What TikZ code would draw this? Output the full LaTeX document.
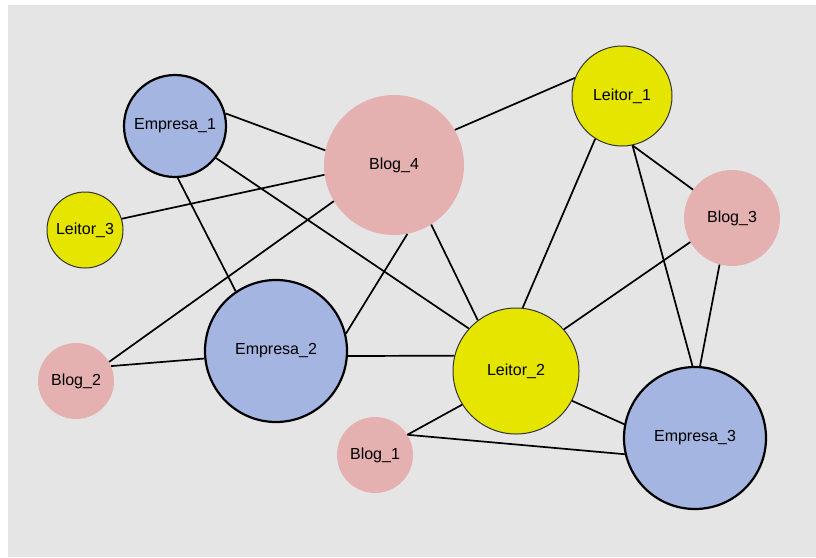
\documentclass[tikz,border=0pt]{standalone}
\usepackage{fontspec}
\setmainfont{Liberation Sans}
\definecolor{bgc}{RGB}{229,229,229}
\definecolor{empc}{RGB}{163,181,224}
\definecolor{blogc}{RGB}{229,177,176}
\definecolor{leic}{RGB}{229,229,0}
\begin{document}
\begin{tikzpicture}[x=1pt,y=-1pt,
  every node/.style={font=\fontsize{16}{18}\selectfont, text=black},
  emp/.style={circle, fill=empc, draw=black, line width=2.2pt, inner sep=0pt},
  blog/.style={circle, fill=blogc, inner sep=0pt},
  lei/.style={circle, fill=leic, draw=black!80, line width=1pt, inner sep=0pt},
  edge/.style={draw=black, line width=1.7pt}]
\useasboundingbox (0,0) rectangle (816,557);
\fill[white] (0,0) rectangle (816,557);
\fill[bgc] (8,5) rectangle (816,557);
\node[emp, minimum size=102pt] (E1) at (175,126) {Empresa\_1};
\node[blog, minimum size=140pt] (B4) at (394,165) {Blog\_4};
\node[lei, minimum size=76pt] (L3) at (85,230) {Leitor\_3};
\node[lei, minimum size=100pt] (L1) at (622,96) {Leitor\_1};
\node[blog, minimum size=96pt] (B3) at (732,218) {Blog\_3};
\node[emp, minimum size=142pt] (E2) at (276,351) {Empresa\_2};
\node[blog, minimum size=76pt] (B2) at (76,381) {Blog\_2};
\node[blog, minimum size=76pt] (B1) at (375,455) {Blog\_1};
\node[lei, minimum size=126pt] (L2) at (516,371) {Leitor\_2};
\node[emp, minimum size=142pt] (E3) at (695,438) {Empresa\_3};
\path[edge] (E1.14) -- (B4.168);
\path[edge] (E1.-38) -- (L2.138);
\path[edge] (E1.-87) -- (E2.124);
\path[edge] (L3.17) -- (B4.-172);
\path[edge] (B4.211) -- (B2.30);
\path[edge] (B4.-79) -- (E2.14);
\path[edge] (B4.-58) -- (L2.127);
\path[edge] (B4.30) -- (L1.159);
\path[edge] (L1.-122) -- (L2.84);
\path[edge] (L1.-78) -- (E3.92);
\path[edge] (L1.-78) -- (B3.144);
\path[edge] (B3.210) -- (L2.41);
\path[edge] (B3.-105) -- (E3.86);
\path[edge] (B2.23) -- (E2.186);
\path[edge] (E2.-4) -- (L2.166);
\path[edge] (L2.212) -- (B1.32);
\path[edge] (L2.-28) -- (E3.169);
\path[edge] (B1.32) -- (E3.193);
\end{tikzpicture}
\end{document}
